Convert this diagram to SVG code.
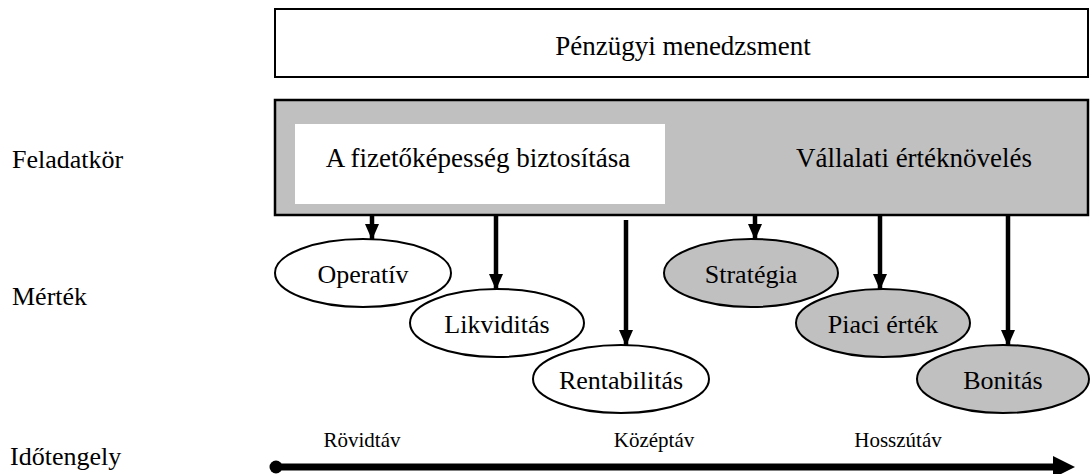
<svg xmlns="http://www.w3.org/2000/svg" width="1091" height="474" viewBox="0 0 1091 474">
  <style>
    text { font-family: "Liberation Serif", "Times New Roman", serif; fill: #000; }
    .box { font-size: 27px; text-anchor: middle; }
    .lbl { font-size: 26px; }
    .node { font-size: 26px; text-anchor: middle; }
    .tick { font-size: 21px; text-anchor: middle; }
    .ell-white { fill: #fff; stroke: #000; stroke-width: 2; }
    .ell-grey { fill: #c0c0c0; stroke: #000; stroke-width: 2; }
    .arrow { stroke: #000; stroke-width: 4.5; fill: none; marker-end: url(#head); }
  </style>
  <defs>
    <!-- filled triangular head, tip at the end of the line -->
    <marker id="head" markerUnits="userSpaceOnUse" viewBox="0 0 16 14" refX="16" refY="7" markerWidth="16" markerHeight="14" orient="auto">
      <path d="M0,0 L16,7 L0,14 Z" fill="#000"/>
    </marker>
  </defs>

  <!-- row labels -->
  <g id="row-labels">
    <text class="lbl" x="12" y="168">Feladatkör</text>
    <text class="lbl" x="12" y="305">Mérték</text>
    <text class="lbl" x="10" y="465">Időtengely</text>
  </g>

  <!-- top header box -->
  <g id="penzugyi-menedzsment">
    <rect x="275" y="9" width="813" height="68" fill="#fff" stroke="#000" stroke-width="2"/>
    <text class="box" x="683" y="55">Pénzügyi menedzsment</text>
  </g>

  <!-- task area -->
  <g id="feladatkor">
    <rect x="275" y="100" width="813" height="115" fill="#c0c0c0" stroke="#000" stroke-width="2.5"/>
  </g>
  <g id="fizetokepesseg">
    <rect x="295" y="124" width="370" height="80" fill="#fff"/>
    <text class="box" x="478" y="167">A fizetőképesség biztosítása</text>
  </g>
  <g id="ertek-noveles">
    <text class="box" x="914" y="167">Vállalati értéknövelés</text>
  </g>

  <!-- connectors -->
  <g id="connectors">
    <line class="arrow" x1="372" y1="216" x2="372" y2="240"/>
    <line class="arrow" x1="496" y1="216" x2="496" y2="290"/>
    <line class="arrow" x1="626" y1="220" x2="626" y2="346"/>
    <line class="arrow" x1="755" y1="216" x2="755" y2="240"/>
    <line class="arrow" x1="880" y1="216" x2="880" y2="290"/>
    <line class="arrow" x1="1008" y1="216" x2="1008" y2="346"/>
  </g>

  <!-- measures -->
  <g id="operativ">
    <ellipse class="ell-white" cx="363" cy="273" rx="88" ry="34"/>
    <text class="node" x="363" y="283">Operatív</text>
  </g>
  <g id="likviditas">
    <ellipse class="ell-white" cx="497" cy="323" rx="87" ry="34"/>
    <text class="node" x="497" y="333">Likviditás</text>
  </g>
  <g id="rentabilitas">
    <ellipse class="ell-white" cx="621" cy="379" rx="88" ry="34"/>
    <text class="node" x="621" y="389">Rentabilitás</text>
  </g>
  <g id="strategia">
    <ellipse class="ell-grey" cx="751" cy="273" rx="87" ry="34"/>
    <text class="node" x="751" y="283">Stratégia</text>
  </g>
  <g id="piaci-ertek">
    <ellipse class="ell-grey" cx="883" cy="323" rx="87" ry="34"/>
    <text class="node" x="883" y="333">Piaci érték</text>
  </g>
  <g id="bonitas">
    <ellipse class="ell-grey" cx="1003" cy="379" rx="86" ry="34"/>
    <text class="node" x="1003" y="389">Bonitás</text>
  </g>

  <!-- time axis -->
  <g id="idotengely">
    <circle cx="276" cy="467" r="6.5" fill="#000"/>
    <line x1="276" y1="467" x2="1058" y2="467" stroke="#000" stroke-width="7"/>
    <polygon points="1053,456 1075,467 1053,478" fill="#000"/>
    <text class="tick" x="362" y="447">Rövidtáv</text>
    <text class="tick" x="654" y="447">Középtáv</text>
    <text class="tick" x="898" y="447">Hosszútáv</text>
  </g>
</svg>
